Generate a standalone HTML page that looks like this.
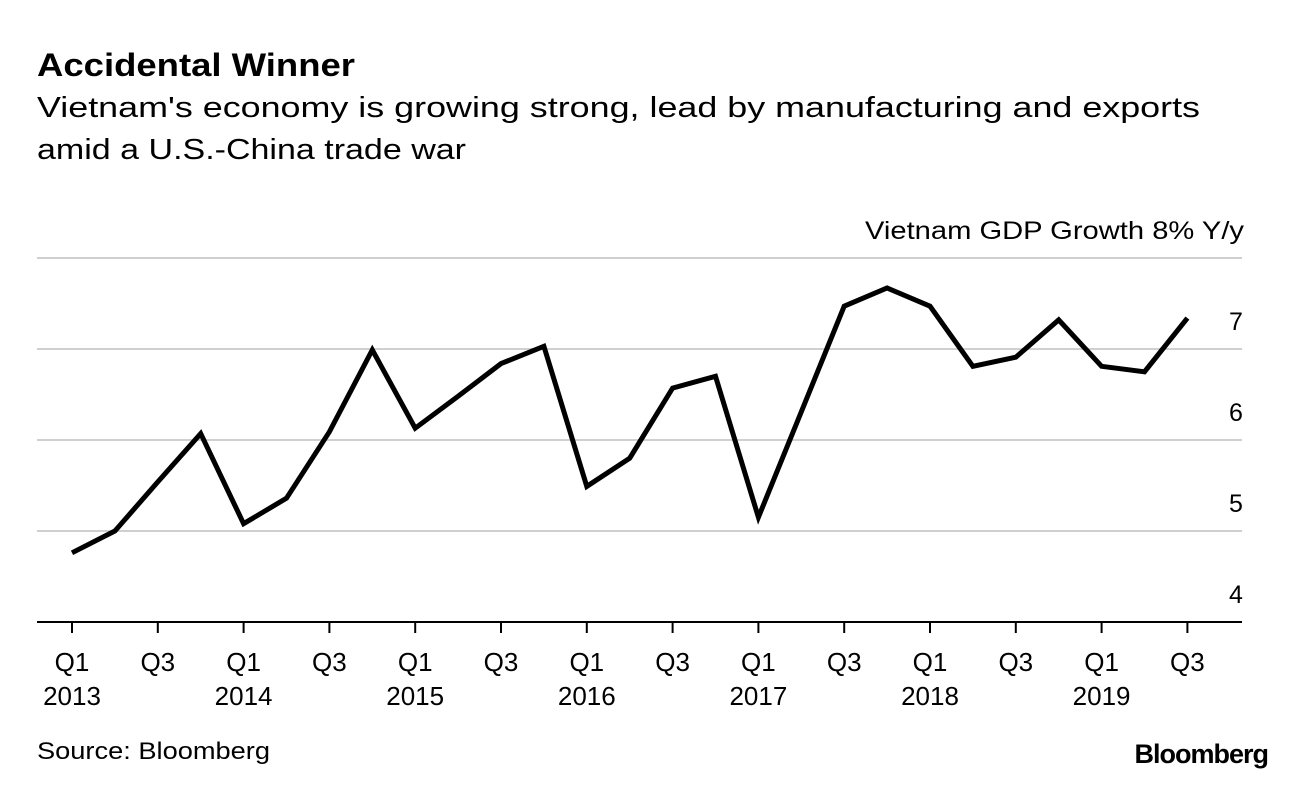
<!DOCTYPE html>
<html><head><meta charset="utf-8"><style>
html,body{margin:0;padding:0;background:#fff;}
body{width:1296px;height:780px;overflow:hidden;font-family:"Liberation Sans",Arial,sans-serif;}
</style></head><body>
<svg width="1296" height="780" xmlns="http://www.w3.org/2000/svg" font-family="Liberation Sans, Arial, sans-serif">
<text x="37" y="76" font-size="32" font-weight="bold" fill="#000" textLength="318" lengthAdjust="spacingAndGlyphs">Accidental Winner</text>
<text x="37" y="117" font-size="29" fill="#000" textLength="1163" lengthAdjust="spacingAndGlyphs">Vietnam's economy is growing strong, lead by manufacturing and exports</text>
<text x="37" y="159" font-size="29" fill="#000" textLength="429" lengthAdjust="spacingAndGlyphs">amid a U.S.-China trade war</text>
<text x="1244" y="239" font-size="25" text-anchor="end" fill="#000" textLength="379" lengthAdjust="spacingAndGlyphs">Vietnam GDP Growth 8% Y/y</text>
<g id="grid"></g>
<g id="xaxis"></g>
<path id="line" fill="none" stroke="#000" stroke-width="5" stroke-linejoin="miter"/>
<text x="37" y="759" font-size="24" fill="#000" textLength="233" lengthAdjust="spacingAndGlyphs">Source: Bloomberg</text>
<text x="1268" y="763" font-size="27" font-weight="bold" text-anchor="end" fill="#000" letter-spacing="-1">Bloomberg</text>
</svg>
<script>
const values = [4.76,5.0,5.54,6.07,5.08,5.36,6.09,6.99,6.13,6.48,6.84,7.03,5.49,5.8,6.57,6.7,5.15,6.31,7.47,7.67,7.47,6.81,6.91,7.32,6.81,6.75,7.34];
const yTicks = [4,5,6,7,8];
const xQuarterLabels = ["Q1","Q3"];
const years = ["2013","2014","2015","2016","2017","2018","2019"];
const NS="http://www.w3.org/2000/svg";
const x0=72, dx=42.9, yBase=622, yUnit=91;
function xs(i){return x0+i*dx;}
function ys(v){return yBase-(v-4)*yUnit;}
const grid=document.getElementById('grid');
yTicks.forEach(t=>{
  const l=document.createElementNS(NS,'line');
  l.setAttribute('x1',37);l.setAttribute('x2',1242);
  l.setAttribute('y1',ys(t));l.setAttribute('y2',ys(t));
  l.setAttribute('stroke',t===4?'#000':'#d0d0d0');l.setAttribute('stroke-width',2);
  
  
  grid.appendChild(l);
  if(t<8){
    const tx=document.createElementNS(NS,'text');
    tx.setAttribute('x',1236);tx.setAttribute('y',ys(t)-19);
    tx.setAttribute('font-size',25);tx.setAttribute('text-anchor','middle');
    tx.textContent=t;
    
    
    grid.appendChild(tx);
  }
});
const xa=document.getElementById('xaxis');
for(let i=0;i<values.length;i+=2){
  const x=xs(i);
  const tk=document.createElementNS(NS,'line');
  tk.setAttribute('x1',x);tk.setAttribute('x2',x);tk.setAttribute('y1',622);tk.setAttribute('y2',633);
  tk.setAttribute('stroke','#000');tk.setAttribute('stroke-width',2);
  
  
  xa.appendChild(tk);
  const q=document.createElementNS(NS,'text');
  q.setAttribute('x',x);q.setAttribute('y',671);q.setAttribute('font-size',26);q.setAttribute('text-anchor','middle');
  q.textContent=xQuarterLabels[(i/2)%2];
  
  
  xa.appendChild(q);
  if(i%4===0){
    const y=document.createElementNS(NS,'text');
    y.setAttribute('x',x);y.setAttribute('y',705);y.setAttribute('font-size',26);y.setAttribute('text-anchor','middle');
    y.textContent=years[i/4];
    
    
    xa.appendChild(y);
  }
}
document.getElementById('line').setAttribute('d',values.map((v,i)=>(i?'L':'M')+xs(i).toFixed(1)+','+ys(v).toFixed(1)).join(''));
</script>
</body></html>
